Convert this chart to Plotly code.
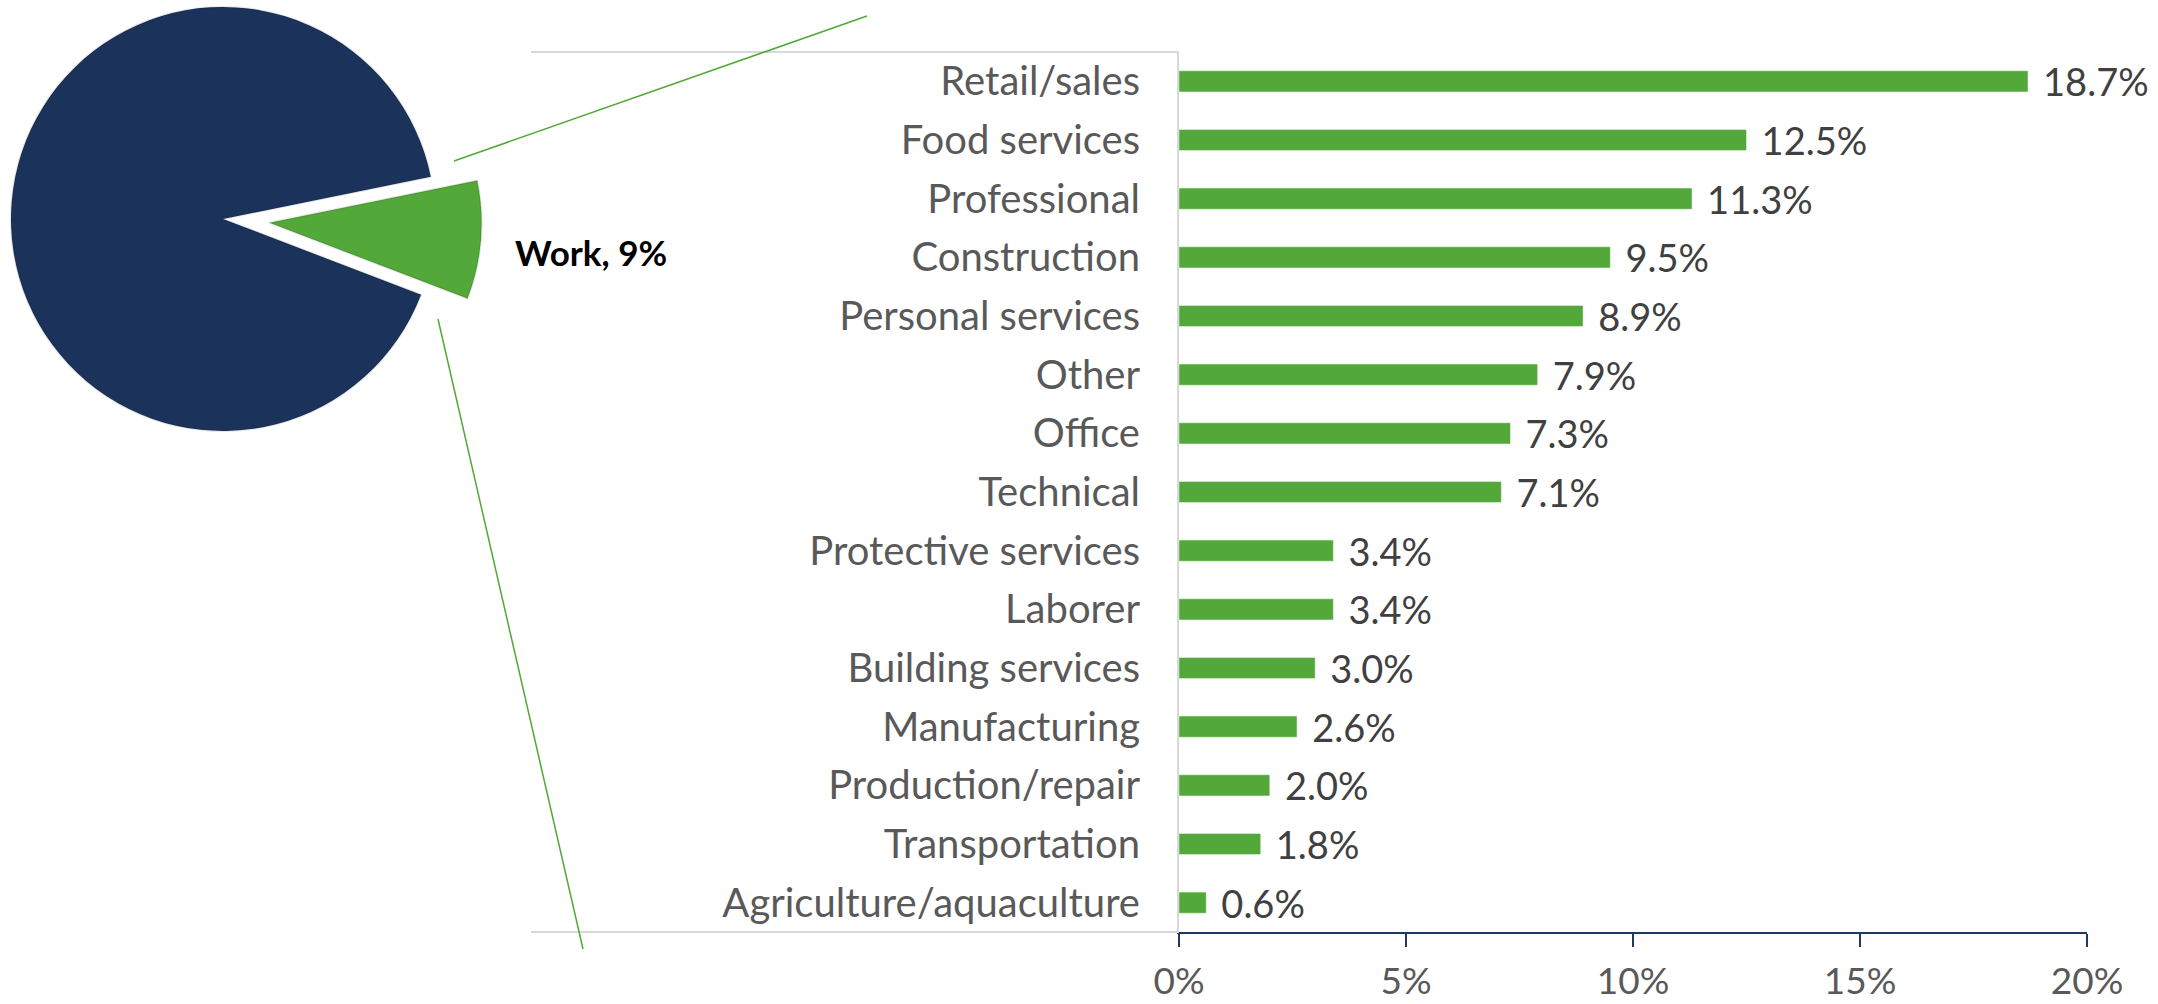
import math
import plotly.graph_objects as go

# ---------------- data ----------------
pie_labels = ["Work", "Other purposes"]
pie_values = [9, 91]

categories = [
    "Retail/sales", "Food services", "Professional", "Construction",
    "Personal services", "Other", "Office", "Technical",
    "Protective services", "Laborer", "Building services", "Manufacturing",
    "Production/repair", "Transportation", "Agriculture/aquaculture",
]
shares = [18.7, 12.5, 11.3, 9.5, 8.9, 7.9, 7.3, 7.1, 3.4, 3.4, 3.0, 2.6, 2.0, 1.8, 0.6]

x_ticks = [0, 5, 10, 15, 20]
x_tick_labels = ["0%", "5%", "10%", "15%", "20%"]

# ---------------- style ----------------
W, H = 2158, 1004
NAVY = "#1B325A"
GREEN = "#52A838"
GREY_TXT = "#595959"
FONT = "Lato"


def fx(px):
    return px / W


def fy(py):
    return 1 - py / H


# pie geometry (pixels)
pie_cx, pie_cy, pie_r = 223, 219, 212
rotation = 78.5
pull = 0.22
work_frac = pie_values[0] / sum(pie_values)
mid_angle = math.radians((90 - rotation) - work_frac * 180)
shift_x = pull * pie_r * math.cos(mid_angle)
shift_y = -pull * pie_r * math.sin(mid_angle)

fig = go.Figure()

# body of pie (work slice left empty = notch)
fig.add_trace(go.Pie(
    labels=pie_labels, values=pie_values, sort=False, direction="clockwise",
    rotation=rotation, textinfo="none", hoverinfo="label+percent",
    marker=dict(colors=["rgba(0,0,0,0)", NAVY],
                line=dict(color=["rgba(0,0,0,0)", "rgba(0,0,0,0.10)"], width=2)),
    domain=dict(x=[fx(pie_cx - pie_r), fx(pie_cx + pie_r)],
                y=[fy(pie_cy + pie_r), fy(pie_cy - pie_r)]),
    showlegend=False,
))

# exploded work slice
fig.add_trace(go.Pie(
    labels=pie_labels, values=pie_values, sort=False, direction="clockwise",
    rotation=rotation, textinfo="none", hoverinfo="label+percent",
    marker=dict(colors=[GREEN, "rgba(0,0,0,0)"],
                line=dict(color=["rgba(0,0,0,0.10)", "rgba(0,0,0,0)"], width=2)),
    domain=dict(x=[fx(pie_cx + shift_x - pie_r), fx(pie_cx + shift_x + pie_r)],
                y=[fy(pie_cy + shift_y + pie_r), fy(pie_cy + shift_y - pie_r)]),
    showlegend=False,
))

# bars
fig.add_trace(go.Bar(
    x=shares, y=categories, orientation="h",
    marker=dict(color=GREEN, line=dict(color="rgba(255,255,255,0.45)", width=1)),
    width=0.36,
    text=["\u00a0\u200a" + f"{v:.1f}%" for v in shares],
    textposition="outside", constraintext="none", cliponaxis=False,
    textfont=dict(family=FONT, size=38, color="#404040"),
    showlegend=False, hoverinfo="x+y",
))

fig.update_layout(
    width=W, height=H,
    margin=dict(l=0, r=0, t=0, b=0, autoexpand=False),
    paper_bgcolor="white", plot_bgcolor="white",
    font=dict(family=FONT, color=GREY_TXT),
    xaxis=dict(
        domain=[fx(1179), fx(2087)], range=[0, 20], automargin=False,
        tickvals=x_ticks, ticktext=x_tick_labels,
        showgrid=False, zeroline=False,
        showline=True, linecolor="#1F3864", linewidth=2,
        ticks="outside", ticklen=13, tickwidth=2, tickcolor="#1F3864",
        tickfont=dict(family=FONT, size=37, color=GREY_TXT),
        ticklabelstandoff=3,
    ),
    yaxis=dict(
        domain=[fy(932), fy(52)], autorange="reversed", automargin=False,
        showgrid=False, zeroline=False,
        showline=True, linecolor="#D9D9D9", linewidth=2,
        ticks="", tickfont=dict(family=FONT, size=40, color=GREY_TXT),
        ticklabelstandoff=29,
    ),
    annotations=[dict(
        x=fx(513), y=fy(252), xref="paper", yref="paper",
        xanchor="left", yanchor="middle", showarrow=False,
        text=f"<b>{pie_labels[0]}, {pie_values[0]}%</b>",
        font=dict(family=FONT, size=35, color="black"),
    )],
    shapes=[
        # box lines around the category label area
        dict(type="line", xref="paper", yref="paper",
             x0=fx(531), x1=fx(1179), y0=fy(52), y1=fy(52),
             line=dict(color="#D9D9D9", width=2)),
        dict(type="line", xref="paper", yref="paper",
             x0=fx(531), x1=fx(1179), y0=fy(932), y1=fy(932),
             line=dict(color="#D9D9D9", width=2)),
        # connector lines from the exploded slice
        dict(type="line", xref="paper", yref="paper",
             x0=fx(454), y0=fy(161), x1=fx(867), y1=fy(16),
             line=dict(color=GREEN, width=1.5)),
        dict(type="line", xref="paper", yref="paper",
             x0=fx(438), y0=fy(319), x1=fx(583), y1=fy(949),
             line=dict(color=GREEN, width=1.5)),
    ],
)

fig.write_html(
    "out.html",
    config={"displayModeBar": False},
    post_script=(
        "document.documentElement.style.margin='0';"
        "document.body.style.margin='0';"
        "document.body.style.overflow='hidden';"
    ),
)
